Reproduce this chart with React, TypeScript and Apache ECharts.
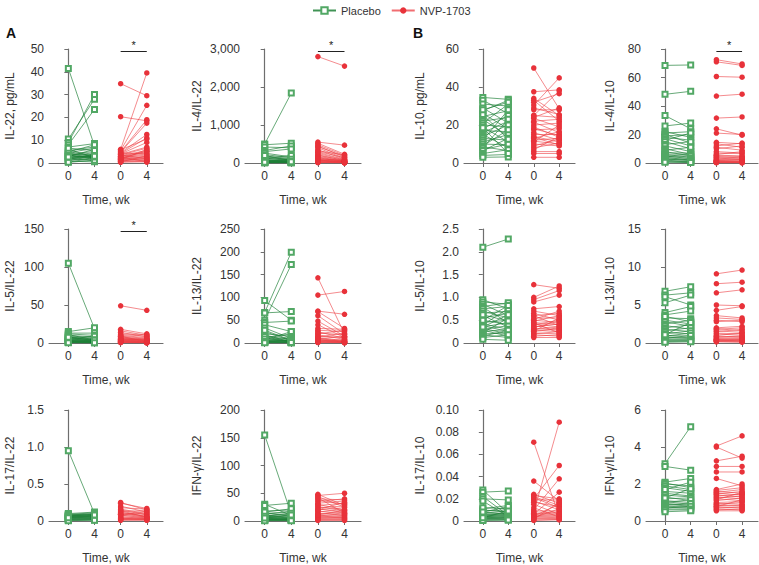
import React, { useEffect, useRef } from "react";
import * as echarts from "echarts";

// ---- data: each pair = [week 0, week 4] ----
const il22Placebo = [[41.5, 7.5], [10.5, 28], [9, 30], [8, 23.5], [7, 8.5], [6, 2.5], [5.5, 7], [5, 3], [4.5, 6.5], [4.2, 2], [4, 5], [3.8, 3.5], [3.5, 1.5], [3.2, 4.5], [3, 2.8], [2.8, 6], [2.5, 2.2], [2.2, 3.8], [2, 1], [1.8, 2.5], [1.5, 4], [1.3, 1.8], [1, 3.2], [0.8, 0.5], [0.5, 2], [0.3, 1.2], [4.8, 8], [6.5, 5.5], [3.3, 2.6], [2.6, 3]];
const il22Nvp = [[34.8, 29.5], [20.3, 18.5], [6, 39.5], [5.5, 25.3], [5, 19], [4.8, 17.5], [4.5, 12.5], [4.2, 11], [4, 9], [3.8, 7], [3.5, 6.5], [3.2, 5.5], [3, 5], [2.8, 4.5], [2.5, 4], [2.3, 3.5], [2, 3], [1.8, 2.5], [1.6, 2.2], [1.4, 6], [1.2, 1.5], [1, 2], [0.8, 1], [0.5, 3.2], [0.3, 0.8], [5.8, 10.5], [4.4, 4], [3.6, 1.8], [2.7, 0.5], [1.5, 1.2], [0.6, 0.4], [2.1, 5.2]];

const il4il22Placebo = [[500, 1840], [480, 520], [420, 400], [330, 450], [300, 370], [260, 160], [220, 140], [180, 120], [150, 90], [130, 60], [110, 110], [90, 40], [80, 80], [70, 50], [60, 30], [50, 70], [40, 20], [35, 45], [30, 15], [25, 35], [20, 10], [15, 25], [10, 5], [8, 12], [5, 8], [120, 200], [200, 60], [45, 100], [28, 40], [18, 30]];
const il4il22Nvp = [[2800, 2550], [550, 470], [520, 230], [480, 200], [450, 150], [400, 120], [350, 100], [320, 210], [280, 90], [250, 80], [220, 60], [200, 70], [180, 50], [160, 40], [140, 30], [120, 55], [100, 35], [90, 25], [80, 20], [70, 45], [60, 15], [50, 30], [40, 10], [30, 12], [20, 8], [15, 5], [10, 6], [430, 180], [300, 140], [110, 65], [65, 22], [25, 18]];

const il10Placebo = [[34.5, 33.5], [33, 26], [31, 30], [29, 21], [27.5, 33], [26, 18], [24.5, 27.5], [23, 14], [22, 24], [21, 31], [20, 19], [19, 11], [18, 25], [17, 16.5], [16, 22], [15, 8], [14, 20], [13, 12], [12, 28], [11, 15], [10, 9.5], [9, 17.5], [8.5, 6.5], [8, 23], [7, 10], [6.5, 13], [5, 7], [4, 4.5], [3, 3.2], [25.5, 12.5], [28, 32], [18.5, 5]];
const il10Nvp = [[50, 28.5], [37.5, 38.5], [34, 25], [33, 22], [32, 36.5], [30.5, 44.8], [29, 25.5], [28, 28], [25, 24], [24, 29], [23.5, 19], [22, 23], [21.5, 16], [20, 21], [18, 14.5], [17.5, 18], [16, 12], [15, 15], [14, 11], [13, 16.5], [12, 13], [11.5, 10], [11, 20], [10, 9], [9, 12.5], [8, 10.5], [7, 14], [6, 6], [5, 5], [3, 3], [25, 38], [19, 13.5], [13.5, 9.5]];

const il4il10Placebo = [[68.5, 68.8], [48.2, 50.3], [33.3, 24], [26, 28], [22, 18], [21, 22], [20, 14], [19, 20], [18, 16], [17, 12], [16, 21], [15, 10], [13, 15], [12, 8], [10, 6], [9, 11], [8, 5], [7, 7], [6, 4], [5.5, 6], [5, 3], [4.5, 5], [4, 2], [3.5, 3.5], [3, 1.5], [2.5, 2.5], [2, 1], [1.5, 0.8], [1, 0.5], [0.5, 0.3]];
const il4il10Nvp = [[72.5, 69.5], [71, 68.5], [60.7, 60.2], [47, 48.3], [31.5, 32.3], [24, 19.5], [21, 20], [14.5, 13.5], [13.5, 11], [12, 14], [11, 9], [10, 12], [8, 7], [7, 6.5], [6, 8], [5.5, 5], [5, 4.5], [4.5, 3.5], [4, 4], [3.5, 2.5], [3, 3], [2.5, 2], [2, 2.5], [1.8, 1.5], [1.5, 1.2], [1.2, 1], [1, 0.8], [0.8, 0.6], [0.6, 0.5], [0.4, 0.3], [0.3, 0.2], [0.2, 0.1]];

const il5il22Placebo = [[105, 19], [15, 20], [13, 13], [12, 10], [11, 4], [10, 8], [9, 6], [8, 3], [7, 5], [6, 2], [5.5, 7], [5, 4], [4.5, 3], [4, 2.5], [3.5, 1.5], [3, 2], [2.5, 1], [2, 1.8], [1.5, 0.8], [1, 1.2], [0.8, 0.5], [0.5, 0.3], [6.5, 9], [3.2, 4.2], [2.2, 0.6], [1.2, 2.5], [7.5, 3.5], [0.3, 0.2]];
const il5il22Nvp = [[49, 43], [18, 12], [16, 10], [14, 8], [12, 11], [10, 7], [9, 6], [8, 5], [7, 4.5], [6.5, 4], [6, 3.5], [5.5, 3], [5, 2.5], [4.5, 2], [4, 1.8], [3.5, 1.5], [3, 1.2], [2.5, 1], [2, 0.8], [1.5, 0.6], [1.2, 0.5], [1, 0.4], [0.8, 0.3], [0.5, 0.2], [11, 9], [8.5, 2.2], [3.8, 5.5], [2.2, 3]];

const il13il22Placebo = [[93, 50], [67, 199], [66, 69], [50, 172], [45, 48], [40, 25], [33, 10], [25, 5], [20, 15], [15, 8], [12, 20], [10, 4], [8, 12], [6, 3], [5, 6], [4, 2], [3, 8], [2, 1], [1.5, 3], [1, 0.5], [18, 2], [28, 6], [7, 25], [14, 1.5], [9, 5], [3.5, 0.8], [2.5, 4], [0.5, 1]];
const il13il22Nvp = [[143, 20], [105, 113], [70, 63], [69, 32], [48, 15], [32, 30], [28, 25], [25, 10], [22, 18], [18, 8], [15, 12], [12, 5], [10, 3], [8, 6], [7, 2], [6, 4], [5, 1.5], [4, 3], [3, 1], [2, 2], [1.5, 0.5], [1, 1], [60, 20], [40, 12], [20, 28], [13, 22], [9, 15], [3.5, 7]];

const il5il10Placebo = [[2.1, 2.28], [0.95, 0.75], [0.9, 0.85], [0.85, 0.6], [0.8, 0.88], [0.78, 0.45], [0.75, 0.8], [0.7, 0.55], [0.65, 0.7], [0.6, 0.35], [0.55, 0.65], [0.5, 0.4], [0.45, 0.5], [0.42, 0.3], [0.4, 0.75], [0.38, 0.25], [0.35, 0.45], [0.32, 0.2], [0.3, 0.38], [0.28, 0.15], [0.25, 0.3], [0.22, 0.55], [0.2, 0.22], [0.18, 0.12], [0.15, 0.28], [0.12, 0.18], [0.08, 0.06], [0.5, 0.82], [0.62, 0.48], [0.35, 0.62]];
const il5il10Nvp = [[1.28, 1.2], [1.0, 1.25], [0.95, 1.15], [0.9, 1.05], [0.75, 0.8], [0.7, 0.6], [0.65, 0.5], [0.6, 0.65], [0.55, 0.55], [0.5, 0.45], [0.48, 0.6], [0.45, 0.4], [0.42, 0.35], [0.4, 0.5], [0.38, 0.3], [0.35, 0.42], [0.32, 0.28], [0.3, 0.35], [0.28, 0.25], [0.25, 0.32], [0.22, 0.2], [0.2, 0.25], [0.18, 0.15], [0.15, 0.18], [0.12, 0.12], [0.6, 0.38], [0.52, 0.7], [0.34, 0.48], [0.26, 0.55], [0.44, 0.22]];

const il13il10Placebo = [[6.8, 7.4], [6.3, 6.6], [6.1, 5.0], [5.3, 6.3], [4.0, 4.8], [3.7, 4.2], [3.3, 3.2], [3.0, 2.5], [2.8, 2.2], [2.5, 3.0], [2.3, 1.8], [2.0, 2.4], [1.8, 1.5], [1.6, 2.0], [1.4, 1.2], [1.2, 1.6], [1.0, 0.9], [0.9, 1.3], [0.8, 0.7], [0.7, 0.6], [0.6, 1.0], [0.5, 0.5], [0.4, 0.4], [0.3, 0.3], [0.2, 0.25], [0.1, 0.15], [3.5, 2.8], [1.1, 2.7]];
const il13il10Nvp = [[9.1, 9.6], [7.8, 8.0], [6.6, 7.0], [5.0, 4.9], [4.3, 4.8], [3.6, 3.3], [3.3, 3.1], [2.0, 2.2], [1.9, 1.6], [1.8, 2.0], [1.6, 1.4], [1.5, 1.8], [1.3, 1.2], [1.2, 1.0], [1.0, 1.3], [0.9, 0.8], [0.8, 0.9], [0.7, 0.6], [0.6, 0.7], [0.5, 0.5], [0.45, 0.4], [0.4, 0.45], [0.35, 0.3], [0.3, 0.35], [0.25, 0.2], [0.2, 0.15], [0.15, 0.1], [3.0, 2.8], [2.8, 3.0]];

const il17il22Placebo = [[0.95, 0.1], [0.1, 0.12], [0.09, 0.11], [0.085, 0.09], [0.08, 0.1], [0.075, 0.07], [0.07, 0.085], [0.065, 0.06], [0.06, 0.075], [0.055, 0.05], [0.05, 0.065], [0.045, 0.045], [0.04, 0.055], [0.035, 0.04], [0.03, 0.035], [0.025, 0.03], [0.02, 0.025], [0.015, 0.02], [0.01, 0.015], [0.005, 0.01], [0.06, 0.095], [0.045, 0.08]];
const il17il22Nvp = [[0.25, 0.15], [0.24, 0.17], [0.2, 0.12], [0.18, 0.16], [0.16, 0.1], [0.15, 0.08], [0.13, 0.14], [0.12, 0.06], [0.11, 0.09], [0.1, 0.05], [0.09, 0.07], [0.08, 0.04], [0.07, 0.11], [0.06, 0.03], [0.05, 0.06], [0.04, 0.02], [0.035, 0.045], [0.03, 0.025], [0.025, 0.035], [0.02, 0.015], [0.015, 0.02], [0.01, 0.01], [0.14, 0.05], [0.09, 0.13]];

const ifnil22Placebo = [[155, 12], [30, 10], [28, 32], [18, 20], [15, 8], [14, 15], [12, 18], [11, 6], [10, 12], [9, 5], [8, 9], [7, 4], [6, 7], [5, 3], [4.5, 5], [4, 2.5], [3.5, 4], [3, 2], [2.5, 3], [2, 1.5], [1.5, 2], [1, 1], [0.5, 0.5], [16, 22], [8.5, 14], [5.5, 11]];
const ifnil22Nvp = [[48, 28], [46, 50], [44, 25], [40, 38], [38, 30], [35, 40], [32, 36], [30, 20], [28, 32], [26, 18], [24, 27], [22, 15], [20, 24], [18, 12], [16, 21], [14, 10], [12, 16], [10, 8], [9, 13], [8, 6], [7, 10], [6, 5], [5, 7], [4, 3], [3, 4], [2, 2], [1, 1], [42, 14], [20, 34], [11, 19]];

const il17il10Placebo = [[0.028, 0.007], [0.026, 0.027], [0.022, 0.005], [0.02, 0.019], [0.018, 0.004], [0.011, 0.014], [0.01, 0.008], [0.009, 0.01], [0.008, 0.006], [0.007, 0.009], [0.0065, 0.005], [0.006, 0.007], [0.0055, 0.004], [0.005, 0.006], [0.0045, 0.003], [0.004, 0.005], [0.0035, 0.0025], [0.003, 0.004], [0.0025, 0.002], [0.002, 0.003], [0.0015, 0.0015], [0.001, 0.001], [0.0005, 0.0008], [0.012, 0.011], [0.008, 0.013], [0.003, 0.009]];
const il17il10Nvp = [[0.071, 0.004], [0.036, 0.018], [0.024, 0.016], [0.023, 0.02], [0.022, 0.014], [0.021, 0.012], [0.02, 0.05], [0.019, 0.019], [0.018, 0.01], [0.017, 0.013], [0.01, 0.038], [0.009, 0.009], [0.008, 0.089], [0.007, 0.008], [0.0065, 0.007], [0.006, 0.026], [0.0055, 0.006], [0.005, 0.005], [0.0045, 0.015], [0.004, 0.004], [0.0035, 0.003], [0.003, 0.011], [0.0025, 0.0025], [0.002, 0.002], [0.0015, 0.017], [0.001, 0.001], [0.0005, 0.0015], [0.012, 0.0035], [0.015, 0.006]];

const ifnil10Placebo = [[3.1, 5.1], [2.95, 2.75], [2.1, 2.3], [2.05, 1.8], [2.0, 1.9], [1.9, 1.7], [1.8, 1.6], [1.6, 1.5], [1.5, 1.35], [1.4, 1.3], [1.3, 1.1], [1.2, 1.25], [1.1, 1.0], [1.05, 0.9], [1.0, 1.15], [0.95, 0.85], [0.9, 0.8], [0.85, 0.95], [0.8, 0.75], [0.75, 0.7], [0.7, 0.8], [0.65, 0.65], [0.6, 0.6], [0.5, 0.55], [1.7, 2.1], [1.25, 1.75]];
const ifnil10Nvp = [[4.05, 4.6], [4.0, 3.4], [3.25, 3.5], [2.95, 2.95], [2.65, 2.65], [2.3, 1.9], [1.7, 2.0], [1.65, 1.8], [1.6, 1.5], [1.55, 1.7], [1.5, 1.4], [1.45, 1.6], [1.4, 1.3], [1.35, 1.45], [1.3, 1.2], [1.25, 1.35], [1.2, 1.1], [1.1, 1.25], [1.0, 1.05], [0.95, 0.9], [0.9, 1.0], [0.85, 0.8], [0.8, 0.85], [0.75, 0.7], [0.7, 0.75], [0.65, 0.6], [0.6, 0.65], [0.55, 0.55], [1.15, 1.55], [0.78, 1.15]];

const timeLabels = ["0", "4", "0", "4"];
const groupNames = ["Placebo", "NVP-1703"];

// panel settings
const panels = [
  { name: "IL-22, pg/mL", pl: il22Placebo, nv: il22Nvp, max: 50, interval: 10, dec: 0, sig: true, row: 0, col: 0 },
  { name: "IL-4/IL-22", pl: il4il22Placebo, nv: il4il22Nvp, max: 3000, interval: 1000, dec: 0, sig: true, row: 0, col: 1 },
  { name: "IL-10, pg/mL", pl: il10Placebo, nv: il10Nvp, max: 60, interval: 20, dec: 0, sig: false, row: 0, col: 2 },
  { name: "IL-4/IL-10", pl: il4il10Placebo, nv: il4il10Nvp, max: 80, interval: 20, dec: 0, sig: true, row: 0, col: 3 },
  { name: "IL-5/IL-22", pl: il5il22Placebo, nv: il5il22Nvp, max: 150, interval: 50, dec: 0, sig: true, row: 1, col: 0 },
  { name: "IL-13/IL-22", pl: il13il22Placebo, nv: il13il22Nvp, max: 250, interval: 50, dec: 0, sig: false, row: 1, col: 1 },
  { name: "IL-5/IL-10", pl: il5il10Placebo, nv: il5il10Nvp, max: 2.5, interval: 0.5, dec: 1, sig: false, row: 1, col: 2 },
  { name: "IL-13/IL-10", pl: il13il10Placebo, nv: il13il10Nvp, max: 15, interval: 5, dec: 0, sig: false, row: 1, col: 3 },
  { name: "IL-17/IL-22", pl: il17il22Placebo, nv: il17il22Nvp, max: 1.5, interval: 0.5, dec: 1, sig: false, row: 2, col: 0 },
  { name: "IFN-γ/IL-22", pl: ifnil22Placebo, nv: ifnil22Nvp, max: 200, interval: 50, dec: 0, sig: false, row: 2, col: 1 },
  { name: "IL-17/IL-10", pl: il17il10Placebo, nv: il17il10Nvp, max: 0.1, interval: 0.02, dec: 2, sig: false, row: 2, col: 2 },
  { name: "IFN-γ/IL-10", pl: ifnil10Placebo, nv: ifnil10Nvp, max: 6, interval: 2, dec: 0, sig: false, row: 2, col: 3 },
];

const COL_LEFT = [49, 245, 464, 646];
const COL_WIDTH = [114, 116, 111, 112];
const COL_NAMEGAP = [33, 42, 38, 30];
const ROW_TOP = [49, 229, 410];
const GRID_H = 114;

const GREEN = "#52a865";
const GREEN_LINE = "rgba(30,128,55,0.85)";
const RED = "#e8323a";
const RED_LINE = "rgba(236,60,66,0.75)";
const AXIS = "#6e6e6e";
const FONT = "Liberation Sans, Arial, sans-serif";

function pairsToLine(pairs: number[][], x0: number) {
  const out: any[] = [];
  pairs.forEach((p) => {
    out.push([x0, p[0]]);
    out.push([x0 + 1, p[1]]);
    out.push(["-", "-"]);
  });
  return out;
}

export default function App() {
  const ref = useRef<HTMLDivElement>(null);
  useEffect(() => {
    document.body.style.margin = "0";
    const chart = echarts.init(ref.current!, null, { renderer: "svg" });
    const grids: any[] = [];
    const xAxes: any[] = [];
    const yAxes: any[] = [];
    const series: any[] = [];
    panels.forEach((p, i) => {
      grids.push({ left: COL_LEFT[p.col], top: ROW_TOP[p.row], width: COL_WIDTH[p.col], height: GRID_H });
      xAxes.push({
        gridIndex: i,
        type: "value",
        min: -0.74,
        max: 3.62,
        name: "Time, wk",
        nameLocation: "middle",
        nameGap: 31,
        nameTextStyle: { fontSize: 12, color: "#333", fontFamily: FONT },
        axisLine: { show: true, lineStyle: { color: AXIS, width: 1.2 } },
        axisTick: { show: true, customValues: [0, 1, 2, 3], length: 4, lineStyle: { color: AXIS } },
        axisLabel: {
          customValues: [0, 1, 2, 3],
          formatter: (v: number) => timeLabels[Math.round(v)] ?? "",
          fontSize: 12,
          color: "#333",
          margin: 7,
          fontFamily: FONT,
        },
        splitLine: { show: false },
      });
      yAxes.push({
        gridIndex: i,
        type: "value",
        min: 0,
        max: p.max,
        interval: p.interval,
        name: p.name,
        nameLocation: "middle",
        nameGap: COL_NAMEGAP[p.col],
        nameTextStyle: { fontSize: 12, color: "#333", fontFamily: FONT },
        axisLine: { show: true, lineStyle: { color: AXIS, width: 1.2 } },
        axisTick: { show: true, length: 4, lineStyle: { color: AXIS } },
        axisLabel: {
          fontSize: 12,
          color: "#333",
          margin: 5,
          fontFamily: FONT,
          formatter: (v: number) =>
            v === 0 ? "0" : p.dec > 0 ? v.toFixed(p.dec) : v.toLocaleString("en-US"),
        },
        splitLine: { show: false },
      });
      series.push({
        type: "line",
        name: groupNames[0],
        xAxisIndex: i,
        yAxisIndex: i,
        data: pairsToLine(p.pl, 0),
        connectNulls: false,
        symbol: "emptyRect",
        symbolSize: 5,
        itemStyle: { color: GREEN, borderColor: GREEN, borderWidth: 0.7 },
        lineStyle: { color: GREEN_LINE, width: 0.8 },
        emphasis: { disabled: true },
      });
      const nvSeries: any = {
        type: "line",
        name: groupNames[1],
        xAxisIndex: i,
        yAxisIndex: i,
        data: pairsToLine(p.nv, 2),
        connectNulls: false,
        symbol: "circle",
        symbolSize: 5.5,
        itemStyle: { color: RED },
        lineStyle: { color: RED_LINE, width: 0.8 },
        emphasis: { disabled: true },
      };
      if (p.sig) {
        const y = p.max * (1 - 2 / GRID_H);
        nvSeries.markLine = {
          silent: true,
          symbol: "none",
          lineStyle: { color: "#222", width: 1, type: "solid" },
          label: { show: true, position: "middle", formatter: "*", color: "#222", fontSize: 11, distance: 1 },
          data: [[{ coord: [2, y] }, { coord: [3, y] }]],
        };
      }
      series.push(nvSeries);
    });

    chart.setOption({
      animation: false,
      backgroundColor: "#fff",
      textStyle: { fontFamily: FONT },
      legend: {
        data: groupNames,
        top: 0,
        left: 307,
        itemWidth: 23,
        itemHeight: 8,
        itemGap: 10,
        textStyle: { fontSize: 11, color: "#333", fontFamily: FONT },
      },
      graphic: [
        { type: "text", left: 6, top: 26, style: { text: "A", font: `bold 14px ${FONT}`, fill: "#111" } },
        { type: "text", left: 413, top: 26, style: { text: "B", font: `bold 14px ${FONT}`, fill: "#111" } },
      ],
      grid: grids,
      xAxis: xAxes,
      yAxis: yAxes,
      series,
    });
    return () => chart.dispose();
  }, []);
  return <div ref={ref} style={{ width: 759, height: 565 }} />;
}
